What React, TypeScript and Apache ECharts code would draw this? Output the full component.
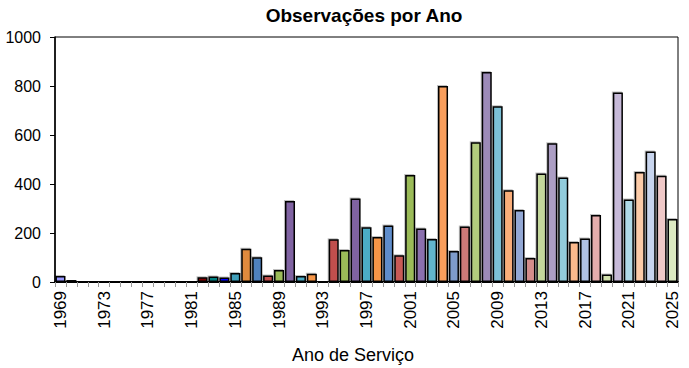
import React, { useEffect, useRef } from "react";
import * as echarts from "echarts";

const years: string[] = [
  "1969","1970","1971","1972","1973","1974","1975","1976","1977","1978","1979","1980","1981",
  "1982","1983","1984","1985","1986","1987","1988","1989","1990","1991","1992","1993","1994",
  "1995","1996","1997","1998","1999","2000","2001","2002","2003","2004","2005","2006","2007",
  "2008","2009","2010","2011","2012","2013","2014","2015","2016","2017","2018","2019","2020",
  "2021","2022","2023","2024","2025",
];

const observations: number[] = [
  25, 8, 0, 0, 2, 0, 2, 2, 4, 5, 2, 6, 0,
  19, 22, 18, 37, 136, 101, 27, 49, 331, 24, 34, 6, 174,
  131, 341, 223, 184, 231, 109, 437, 218, 176, 800, 127, 227, 570,
  857, 717, 374, 294, 98, 443, 566, 427, 163, 178, 273, 31, 773,
  337, 449, 533, 434, 257,
];

const barColors: string[] = [
  "#9999FF","#993366","#FFFFCC","#CCFFFF","#660066","#FF8080","#0066CC","#CCCCFF","#000080",
  "#FF00FF","#FFFF00","#00FFFF","#800080","#800000","#008080","#0000FF",
  "#3F9FBA","#E08A3C","#4F81BD","#C0504D","#9BBB59","#8064A2","#4BACC6","#F79646","#4F81BD",
  "#C0504D","#9BBB59","#8064A2","#4BACC6","#F79646","#5F8DCB","#C85A57","#9BBB59","#8B70AE",
  "#62B6CE","#F99E5C","#7E9BCB","#CD7A78","#B2CB7D","#9C8AB8","#7BC0D6","#F9AE7A","#93A8D4",
  "#D48D8B","#C3D79B","#AC9EC4","#92CCDC","#FBB98C","#AFC2E2","#E4ADAC","#D0E0AC","#C6B9D8",
  "#B0DAE8","#FCCBA8","#C8D5EE","#F0C9C8","#DCEAC2",
];

const yTicks = { min: 0, max: 1000, interval: 200 };
const titleText = "Observações por Ano";
const xAxisTitle = "Ano de Serviço";

const FONT = "'Liberation Sans', Arial, sans-serif";

export default function App() {
  const ref = useRef<HTMLDivElement>(null);
  useEffect(() => {
    if (!ref.current) return;
    const chart = echarts.init(ref.current, null, { renderer: "svg" });
    chart.setOption({
      animation: false,
      backgroundColor: "#fff",
      grid: {
        left: 55,
        right: 11,
        top: 37,
        bottom: 86,
        show: true,
        borderColor: "#000",
        borderWidth: 1,
        backgroundColor: "transparent",
      },
      graphic: [
        {
          type: "text",
          x: 364,
          y: 15,
          style: {
            text: titleText,
            fontFamily: FONT,
            fontWeight: "bold",
            fontSize: 19,
            fill: "#000",
            align: "center",
            verticalAlign: "middle",
          },
        },
        {
          type: "text",
          x: 353,
          y: 355,
          style: {
            text: xAxisTitle,
            fontFamily: FONT,
            fontSize: 18,
            fill: "#000",
            align: "center",
            verticalAlign: "middle",
          },
        },
      ],
      xAxis: {
        type: "category",
        data: years,
        axisLine: { show: true, lineStyle: { color: "#000", width: 2 } },
        axisTick: { show: true, interval: 0, length: 5, lineStyle: { color: "#999" } },
        axisLabel: {
          interval: 3,
          rotate: 90,
          fontSize: 17,
          fontFamily: FONT,
          color: "#000",
          margin: 9,
        },
        splitLine: { show: false },
      },
      yAxis: {
        type: "value",
        min: yTicks.min,
        max: yTicks.max,
        interval: yTicks.interval,
        axisLine: { show: true, lineStyle: { color: "#000", width: 1.5 } },
        axisTick: { show: true, length: 5, lineStyle: { color: "#000" } },
        axisLabel: {
          fontSize: 16,
          fontFamily: FONT,
          color: "#000",
          margin: 14,
          formatter: (v: number) => String(v),
        },
        splitLine: { show: false },
      },
      series: [
        {
          type: "bar",
          barCategoryGap: "8%",
          data: observations.map((v, i) => ({
            value: v,
            itemStyle: { color: barColors[i % barColors.length] },
          })),
          itemStyle: {
            borderColor: "#000",
            borderWidth: 1.5,
            shadowColor: "rgba(0,0,0,0.25)",
            shadowOffsetX: -1,
            shadowOffsetY: -1,
            shadowBlur: 1,
          },
        },
      ],
    });
    return () => chart.dispose();
  }, []);
  return (
    <div
      ref={ref}
      style={{ position: "fixed", left: 0, top: 0, width: 689, height: 368 }}
    />
  );
}
